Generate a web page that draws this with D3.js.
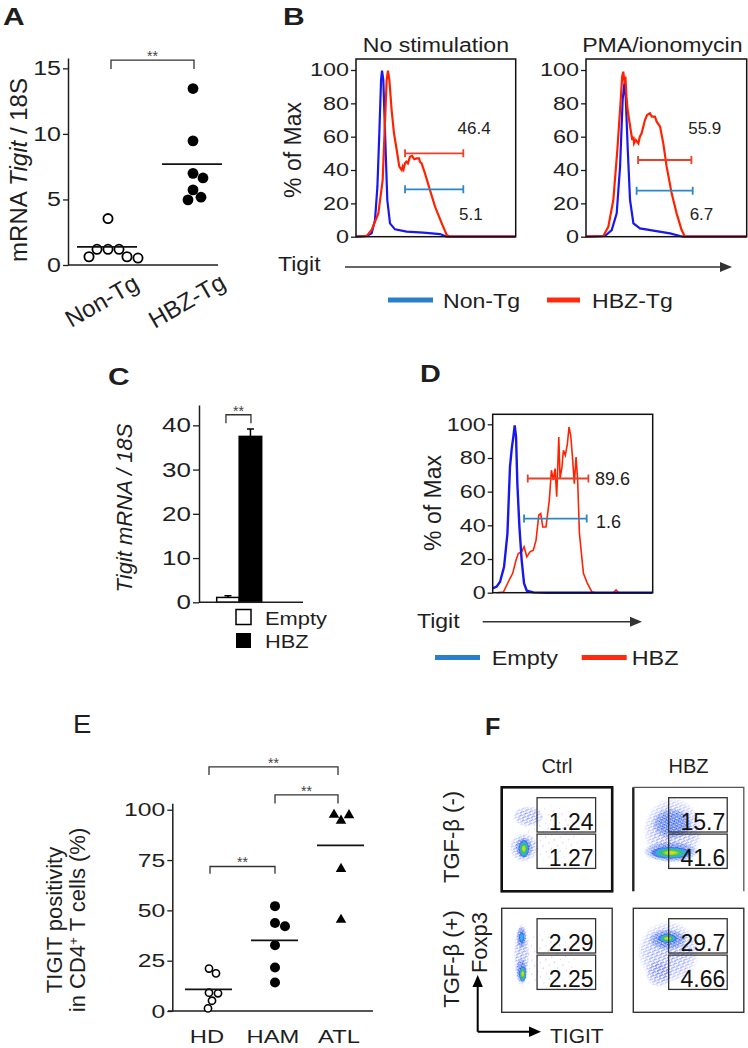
<!DOCTYPE html>
<html>
<head>
<meta charset="utf-8">
<script src="https://cdn.jsdelivr.net/npm/d3@7/dist/d3.min.js"></script>
<style>
 html,body{margin:0;padding:0;background:#fff}
 svg{display:block}
 text{font-family:"Liberation Sans",Arial,Helvetica,sans-serif}
</style>
</head>
<body>
<svg id="fig" width="748" height="1048"></svg>
<script>
// ================= DATA =================
// Panel A : mRNA Tigit / 18S
const aGroups = ["Non-Tg", "HBZ-Tg"];
const aNonTg = [3.54, 1.2, 1.2, 1.2, 0.63, 0.63, 0.53];
const aHbzTg = [13.46, 9.47, 6.99, 6.64, 5.73, 5.17, 4.97];
const aMeans = [1.39, 7.7];
const aTicks = [0, 5, 10, 15];

// Panel B : histograms [Tigit (0-100 log scale), % of Max]
const bTitles = ["No stimulation", "PMA/ionomycin"];
const bTicks = [0, 20, 40, 60, 80, 100];
const bNoStimNonTg = [[0,0],[6.7,0.4],[9.8,2],[11.9,10],[13.4,30],[14.6,62],[15.7,94],[16.3,99.6],[17.1,94],[18.2,62],[19.6,22],[21.3,8],[24.4,4.4],[31.7,3],[42.2,2.4],[52.6,1.6],[56.8,0],[100,0]];
const bNoStimHbzTg = [[0,0],[6.7,0.4],[9.8,4],[14,14],[16.7,34],[18.2,70],[19.2,94],[20,99.6],[20.9,94],[22.3,76],[23.8,62],[25.5,52],[27.1,42],[28.6,40],[29.2,42],[29.8,40.5],[30.7,44],[31.5,45],[32.5,44],[33.8,48],[35,48.5],[36.5,46.5],[38,47],[39.5,47],[40,45],[41.1,44],[43.2,38],[46.3,28],[49.5,18],[53.7,8],[56.8,1],[58.9,0],[100,0]];
const bPmaNonTg = [[0,0],[11.8,0.4],[16,4],[19.1,14],[21.2,42],[22.8,82],[23.9,92],[24.7,84],[26,52],[27.4,22],[29.5,8],[33.6,5],[41.9,3.6],[52.3,2],[58.5,0.4],[60.6,0],[100,0]];
const bPmaHbzTg = [[0,0],[10.8,0.4],[13.9,6],[17,22],[19.5,52],[21.6,82],[22.5,96],[23.2,99],[24,92],[24.5,96],[25.2,84],[25.9,76],[27.8,64],[28.8,58],[29.5,60],[29.9,56],[31,58],[32.6,56],[33.5,60],[34.6,62],[36.7,70],[38,73],[39.8,74],[41,72],[42.9,72],[44,69],[46.1,66],[48.1,56],[50.2,42],[53.3,26],[56.4,14],[59.5,4],[61.6,0],[100,0]];
const bGateNonTg = [[30.7, 67.2, 28.4], [31.5, 66.4, 27.6]];   // [from, to, level]
const bGateHbzTg = [[30.7, 67.2, 50], [32.4, 65.6, 46]];
const bPctNonTg = ["5.1", "6.7"];
const bPctHbzTg = ["46.4", "55.9"];

// Panel C : bar chart
const cGroups = ["Empty", "HBZ"];
const cValues = [1.1, 37.5];
const cErrors = [0.4, 1.7];
const cTicks = [0, 10, 20, 30, 40];

// Panel D : histograms
const dTicks = [0, 20, 40, 60, 80, 100];
const dEmpty = [[0,2.6],[2.5,3.6],[4.6,6.5],[7.1,15.4],[9.2,35],[10.8,74.7],[11.9,85.6],[12.9,92.5],[13.75,99.4],[14.6,92.5],[15.4,64.8],[16.7,39],[18.1,19.4],[19.6,5.5],[21.3,1.2],[25.4,0.2],[33.8,0],[100,0]];
const dHbz = [[2.5,0],[6.7,0.4],[9.8,6.5],[12.5,11.5],[14.6,19.4],[16,23.3],[18.1,24.3],[19.6,27.3],[21.3,21.3],[23.3,24.3],[25.4,25.3],[27.1,31.2],[28.8,46],[30,47],[31.3,39],[33.3,39],[35.4,55],[36.7,72.7],[37.9,66.8],[39,73.7],[40,57],[41.3,92.5],[42.1,67.8],[43.3,74.7],[44.2,84.6],[45.4,81.6],[46.7,88.5],[47.7,98.4],[48.75,93.5],[50,78.7],[51,64.8],[52.1,80.6],[53.1,66.8],[54.2,35.2],[56.7,11.5],[59.2,5.5],[61.9,0.6],[64,0],[75.4,0],[77.1,1.6],[78.75,0],[100,0]];
const dGateEmpty = [19.6, 58.75, 44];
const dGateHbz = [21.9, 59.8, 67.8];
const dPctEmpty = "1.6";
const dPctHbz = "89.6";

// Panel E : TIGIT positivity
const eGroups = ["HD", "HAM", "ATL"];
const eHD = [21.1, 18.7, 9.1, 8.8, 5.1, 1.3];
const eHAM = [52.1, 43.7, 42.1, 32.7, 21.6, 14.2];
const eATL = [94.6, 97.3, 97.5, 70.6, 45.3];
const eMeans = [10.7, 35.1, 82.3];
const eTicks = [0, 25, 50, 75, 100];

// Panel F : flow plots (TIGIT x Foxp3, 0-100 scale)
const fCols = ["Ctrl", "HBZ"];
const fRows = ["TGF-β (-)", "TGF-β (+)"];
const fPctUpper = [["1.24", "15.7"], ["2.29", "29.7"]];
const fPctLower = [["1.27", "41.6"], ["2.25", "4.66"]];
const fGateTigit = [32, 85];
const fGateFoxp3Upper = [57, 90];
const fGateFoxp3Lower = [22, 55];
// clouds: [TIGIT centre, Foxp3 centre, spread TIGIT, spread Foxp3, density]
const fCtrlNeg = [[24,72,14,10,"sparse"],[45,55,30,30,"faint"],[20,42,13,14,"sparse"],[20,42,8,10,"mid"],[20,41,5,9,"dense"]];
const fHbzNeg  = [[36,58,27,32,"sparse"],[35,65,18,15,"mid"],[34,38,25,10,"mid"],[34,37,19,6,"dense"]];
const fCtrlPos = [[18,55,7,31,"sparse"],[40,50,30,30,"faint"],[18,72,4.5,11,"mid"],[18,40,5,12,"mid"],[18,72,2.5,6,"cool"],[19,37,3.5,8,"dense"]];
const fHbzPos  = [[32,58,28,30,"sparse"],[23,37,12,13,"sparse"],[31,70,17,10,"mid"],[31,71,9,4.5,"dense"]];

// ================= DRAWING =================
const svg = d3.select("#fig");
const INK = "#1e1e1e";
const BLUE_LINE = "#1818ee", RED_LINE = "#ff2200";
const BLUE_GATE = "#2b87c8", RED_GATE = "#e8402a";
const BLUE_LEG = "#2a80c8", RED_LEG = "#ff2a10";

function label(g, parts, x, y, o = {}) {
  const t = g.append("text")
    .attr("transform", `translate(${x},${y}) scale(${o.sx ?? 1},1)${o.rot ? ` rotate(${o.rot})` : ""}`)
    .attr("font-size", o.size ?? 18)
    .attr("text-anchor", o.anchor ?? "start")
    .attr("fill", o.fill ?? INK);
  if (o.weight) t.attr("font-weight", o.weight);
  if (o.italic) t.attr("font-style", "italic");
  if (o.family) t.attr("font-family", o.family);
  if (o.dy) t.attr("dy", o.dy);
  const arr = Array.isArray(parts) ? parts : [[parts]];
  arr.forEach(p => {
    const s = t.append("tspan").text(p[0]);
    if (p[1] === "i") s.attr("font-style", "italic");
    if (p[1] === "sup") s.attr("font-size", "0.62em").attr("baseline-shift", "super");
  });
  return t;
}

function yAxis(g, scale, ticks, x, o) {
  const ax = g.append("g").attr("transform", `translate(${x},0)`)
    .call(d3.axisLeft(scale).tickValues(ticks).tickSize(o.tick ?? 5).tickSizeOuter(0).tickPadding(o.pad ?? 2));
  ax.attr("font-family", null).attr("font-size", null);
  ax.select(".domain").attr("stroke", INK).attr("stroke-width", 1.5).attr("display", o.noDomain ? "none" : null);
  ax.selectAll(".tick line").attr("stroke", INK).attr("stroke-width", 1.3);
  ax.selectAll(".tick text").each(function () {
    const t = d3.select(this);
    const tx = +t.attr("x");
    t.attr("x", 0).attr("transform", `translate(${tx},0) scale(${o.sx},1)`)
      .attr("font-size", o.size).attr("fill", INK);
  });
  return ax;
}

function dodge(values, cx, y, r, step) {
  const placed = [];
  return values.map(v => {
    const py = y(v);
    for (let k = 0; k < 80; k++) {
      const off = k === 0 ? 0 : Math.ceil(k / 2) * step * (k % 2 ? 1 : -1);
      const px = cx + off;
      if (placed.every(p => Math.hypot(p[0] - px, p[1] - py) >= 2 * r)) {
        placed.push([px, py]);
        return { v, x: px, y: py };
      }
    }
    return { v, x: cx, y: py };
  });
}

function bracket(g, x1, x2, yTop, yLeg) {
  g.append("path")
    .attr("d", `M${x1},${yLeg}V${yTop}H${x2}V${yLeg}`)
    .attr("fill", "none").attr("stroke", "#333").attr("stroke-width", 1.3);
  label(g, "**", (x1 + x2) / 2, yTop + 1, { size: 14, anchor: "middle", fill: "#444" });
}

function arrowRight(g, x1, x2, y, color, w) {
  g.append("line").attr("x1", x1).attr("x2", x2 - 8).attr("y1", y).attr("y2", y)
    .attr("stroke", color).attr("stroke-width", w);
  g.append("path").attr("d", `M${x2},${y}L${x2 - 12},${y - 5}L${x2 - 12},${y + 5}Z`).attr("fill", color);
}

const defs = svg.append("defs");

// ---------- Panel A ----------
{
  const g = svg.append("g");
  label(g, "A", 3, 25, { size: 24, weight: "bold", sx: 1.25 });
  const y = d3.scaleLinear().domain([0, 15.79]).range([265, 58]);
  const x = d3.scalePoint().domain(aGroups).range([108, 193]);
  yAxis(g, y, aTicks, 68, { size: 20, sx: 1.25 });
  g.append("line").attr("x1", 68).attr("x2", 218).attr("y1", y(0)).attr("y2", y(0))
    .attr("stroke", INK).attr("stroke-width", 1.5);
  label(g, [["mRNA "], ["Tigit", "i"], [" / 18S"]], 19, 170, { size: 24, rot: -90, anchor: "middle", dy: "0.35em" });
  aGroups.forEach(grp => label(g, grp, x(grp) - 2, 308, { size: 24, rot: -30, anchor: "middle" }));

  const series = [aNonTg, aHbzTg];
  series.forEach((vals, i) => {
    const pts = dodge(vals, x(aGroups[i]), y, 5.4, 1);
    g.selectAll(null).data(pts).join("circle")
      .attr("cx", d => d.x).attr("cy", d => d.y).attr("r", i === 0 ? 4.6 : 5.4)
      .attr("fill", i === 0 ? "#fff" : "#000").attr("stroke", "#000").attr("stroke-width", i === 0 ? 1.8 : 0);
  });
  g.selectAll(null).data(aMeans).join("line")
    .attr("x1", (d, i) => x(aGroups[i]) - 31).attr("x2", (d, i) => x(aGroups[i]) + 29)
    .attr("y1", d => y(d)).attr("y2", d => y(d)).attr("stroke", "#111").attr("stroke-width", 1.8);
  bracket(g, x(aGroups[0]) + 3, x(aGroups[1]) + 1, y(15.63), y(14.95));
}

// ---------- Panel B ----------
{
  const g = svg.append("g");
  label(g, "B", 283, 25, { size: 24, weight: "bold", sx: 1.25 });
  const boxes = [[356, 515.7], [586, 746.7]];
  const top = 59, bottom = 236.7;
  const y = d3.scaleLinear().domain([0, 100]).range([bottom, 70]);
  const blue = [bNoStimNonTg, bPmaNonTg], red = [bNoStimHbzTg, bPmaHbzTg];
  boxes.forEach(([x0, x1], i) => {
    const x = d3.scaleLinear().domain([0, 100]).range([x0, x1]);
    const id = "clipB" + i;
    defs.append("clipPath").attr("id", id).append("rect")
      .attr("x", x0).attr("y", top).attr("width", x1 - x0).attr("height", bottom - top + 1.5);
    label(g, bTitles[i], (x0 + x1) / 2 - (i ? 4 : 0), 52, { size: 21, anchor: "middle", sx: 1.1 });
    yAxis(g, y, bTicks, x0, { size: 18, sx: 1.3, noDomain: true });
    const line = d3.line().x(d => x(d[0])).y(d => y(d[1]));
    const pg = g.append("g").attr("clip-path", `url(#${id})`);
    pg.append("path").attr("d", line(blue[i])).attr("fill", "none").attr("stroke", BLUE_LINE).attr("stroke-width", 2.2);
    pg.append("path").attr("d", line(red[i])).attr("fill", "none").attr("stroke", RED_LINE).attr("stroke-width", 2.2);
    g.append("rect").attr("x", x0).attr("y", top).attr("width", x1 - x0).attr("height", bottom - top)
      .attr("fill", "none").attr("stroke", "#111").attr("stroke-width", 1.5);
    [[bGateHbzTg[i], RED_GATE], [bGateNonTg[i], BLUE_GATE]].forEach(([gt, col]) => {
      const gy = y(gt[2]);
      g.append("path").attr("d", `M${x(gt[0])},${gy}H${x(gt[1])}M${x(gt[0])},${gy - 4}V${gy + 4}M${x(gt[1])},${gy - 4}V${gy + 4}`)
        .attr("stroke", col).attr("stroke-width", 1.8).attr("fill", "none");
    });
    label(g, bPctHbzTg[i], x(63.6), y(61.5), { size: 17, family: "DejaVu Sans", fill: "#222" });
    label(g, bPctNonTg[i], x(64.5), y(10), { size: 17, family: "DejaVu Sans", fill: "#222" });
  });
  label(g, "% of Max", 293, 150, { size: 23, rot: -90, anchor: "middle", dy: "0.35em" });
  label(g, "Tigit", 278, 271, { size: 20, sx: 1.15 });
  arrowRight(g, 345, 732, 267, "#333", 1.5);
  g.append("line").attr("x1", 388).attr("x2", 433).attr("y1", 300).attr("y2", 300).attr("stroke", BLUE_LEG).attr("stroke-width", 5);
  label(g, "Non-Tg", 443, 308, { size: 21, sx: 1.1 });
  g.append("line").attr("x1", 547).attr("x2", 580).attr("y1", 300).attr("y2", 300).attr("stroke", RED_LEG).attr("stroke-width", 5);
  label(g, "HBZ-Tg", 592, 308, { size: 21, sx: 1.1 });
}

// ---------- Panel C ----------
{
  const g = svg.append("g");
  label(g, "C", 108, 385, { size: 24, weight: "bold", sx: 1.25 });
  const y = d3.scaleLinear().domain([0, 44.6]).range([602.3, 405]);
  const x = d3.scaleBand().domain(cGroups).range([216.7, 261.7]).paddingInner(0);
  yAxis(g, y, cTicks, 199, { size: 20, sx: 1.3, tick: 6 });
  label(g, "Tigit mRNA / 18S", 124, 508, { size: 22, rot: -90, anchor: "middle", dy: "0.35em", italic: true });
  g.selectAll(null).data(cValues).join("rect")
    .attr("x", (d, i) => x(cGroups[i])).attr("width", x.bandwidth())
    .attr("y", d => y(d)).attr("height", d => y(0) - y(d))
    .attr("fill", (d, i) => i ? "#000" : "#fff").attr("stroke", "#000").attr("stroke-width", 1.5);
  g.selectAll(null).data(cValues).join("path")
    .attr("d", (d, i) => {
      const cx = x(cGroups[i]) + x.bandwidth() / 2, yt = y(d + cErrors[i]);
      return `M${cx},${y(d)}V${yt}M${cx - 3.5},${yt}H${cx + 3.5}`;
    })
    .attr("stroke", "#000").attr("stroke-width", 1.5);
  g.append("line").attr("x1", 199).attr("x2", 303).attr("y1", y(0)).attr("y2", y(0)).attr("stroke", INK).attr("stroke-width", 1.5);
  bracket(g, x(cGroups[0]) + x.bandwidth() / 2 - 2, x(cGroups[1]) + x.bandwidth() / 2 + 0.5, y(42.4), y(40.5));
  g.append("rect").attr("x", 236).attr("y", 609.5).attr("width", 15).attr("height", 15).attr("fill", "#fff").attr("stroke", "#000").attr("stroke-width", 1.5);
  label(g, cGroups[0], 265, 624.5, { size: 19, sx: 1.15 });
  g.append("rect").attr("x", 236).attr("y", 633).attr("width", 15).attr("height", 15).attr("fill", "#000");
  label(g, cGroups[1], 265, 648, { size: 19, sx: 1.15 });
}

// ---------- Panel D ----------
{
  const g = svg.append("g");
  label(g, "D", 420, 382, { size: 24, weight: "bold", sx: 1.2 });
  const x0 = 492.7, x1 = 652.7, top = 414.3, bottom = 592.7;
  const x = d3.scaleLinear().domain([0, 100]).range([x0, x1]);
  const y = d3.scaleLinear().domain([0, 100]).range([bottom, 424.3]);
  defs.append("clipPath").attr("id", "clipD").append("rect")
    .attr("x", x0).attr("y", top).attr("width", x1 - x0).attr("height", bottom - top + 1.5);
  yAxis(g, y, dTicks, x0, { size: 18, sx: 1.3, noDomain: true });
  const line = d3.line().x(d => x(d[0])).y(d => y(d[1]));
  const pg = g.append("g").attr("clip-path", "url(#clipD)");
  pg.append("path").attr("d", line(dHbz)).attr("fill", "none").attr("stroke", RED_LINE).attr("stroke-width", 1.6);
  pg.append("path").attr("d", line(dEmpty)).attr("fill", "none").attr("stroke", BLUE_LINE).attr("stroke-width", 2.4);
  g.append("rect").attr("x", x0).attr("y", top).attr("width", x1 - x0).attr("height", bottom - top)
    .attr("fill", "none").attr("stroke", "#111").attr("stroke-width", 1.5);
  [[dGateHbz, RED_GATE], [dGateEmpty, BLUE_GATE]].forEach(([gt, col]) => {
    const gy = y(gt[2]);
    g.append("path").attr("d", `M${x(gt[0])},${gy}H${x(gt[1])}M${x(gt[0])},${gy - 4}V${gy + 4}M${x(gt[1])},${gy - 4}V${gy + 4}`)
      .attr("stroke", col).attr("stroke-width", 1.8).attr("fill", "none");
  });
  label(g, dPctHbz, x(64), y(64), { size: 18, family: "DejaVu Sans", fill: "#222" });
  label(g, dPctEmpty, x(64.6), y(38.6), { size: 18, family: "DejaVu Sans", fill: "#222" });
  label(g, "% of Max", 433.3, 503, { size: 23, rot: -90, anchor: "middle", dy: "0.35em" });
  label(g, "Tigit", 417, 627.5, { size: 20, sx: 1.15 });
  arrowRight(g, 482.7, 642, 621.7, "#333", 1.5);
  g.append("line").attr("x1", 435).attr("x2", 480).attr("y1", 657.5).attr("y2", 657.5).attr("stroke", BLUE_LEG).attr("stroke-width", 5);
  label(g, "Empty", 491.7, 664.5, { size: 20, sx: 1.17 });
  g.append("line").attr("x1", 581.7).attr("x2", 626.7).attr("y1", 657.5).attr("y2", 657.5).attr("stroke", RED_LEG).attr("stroke-width", 5);
  label(g, "HBZ", 631.7, 664.5, { size: 20, sx: 1.17 });
}

// ---------- Panel E ----------
{
  const g = svg.append("g");
  label(g, "E", 73, 733, { size: 25, sx: 1.1 });
  const y = d3.scaleLinear().domain([0, 103.2]).range([1011, 803.3]);
  const x = d3.scalePoint().domain(eGroups).range([209, 341]);
  yAxis(g, y, eTicks, 172.3, { size: 19, sx: 1.3 });
  g.append("line").attr("x1", 168).attr("x2", 373).attr("y1", y(0)).attr("y2", y(0)).attr("stroke", INK).attr("stroke-width", 1.5);
  eGroups.forEach(grp => label(g, grp, x(grp) - 2, 1043, { size: 19, sx: 1.25, anchor: "middle" }));
  label(g, "TIGIT positivity", 54, 920, { size: 22, rot: -90, anchor: "middle", dy: "0.35em" });
  label(g, [["in CD4"], ["+", "sup"], [" T cells (%)"]], 77, 920, { size: 22, rot: -90, anchor: "middle", dy: "0.35em" });

  const hd = dodge(eHD, x("HD"), y, 4.2, 1);
  g.selectAll(null).data(hd).join("circle").attr("cx", d => d.x).attr("cy", d => d.y).attr("r", 3.6)
    .attr("fill", "#fff").attr("stroke", "#000").attr("stroke-width", 1.6);
  const ham = dodge(eHAM, x("HAM"), y, 5, 1);
  g.selectAll(null).data(ham).join("circle").attr("cx", d => d.x).attr("cy", d => d.y).attr("r", 5).attr("fill", "#000");
  const atl = dodge(eATL, x("ATL"), y, 4.5, 1);
  g.selectAll(null).data(atl).join("path").attr("d", d3.symbol(d3.symbolTriangle).size(48)())
    .attr("transform", d => `translate(${d.x},${d.y})`).attr("fill", "#000");
  g.selectAll(null).data(eMeans).join("line")
    .attr("x1", (d, i) => x(eGroups[i]) - 24).attr("x2", (d, i) => x(eGroups[i]) + 23)
    .attr("y1", d => y(d)).attr("y2", d => y(d)).attr("stroke", "#111").attr("stroke-width", 1.8);
  bracket(g, x("HD"), x("ATL") - 3, y(121.3), y(117.3));
  bracket(g, x("HAM"), x("ATL") - 3, y(107.4), y(103.1));
  bracket(g, x("HD") + 1, x("HAM"), y(71.8), y(68.2));
}

// ---------- Panel F ----------
{
  const mkPattern = (id, size, rot, dots) => {
    const p = defs.append("pattern").attr("id", id).attr("patternUnits", "userSpaceOnUse")
      .attr("width", size).attr("height", size).attr("patternTransform", `rotate(${rot})`);
    dots.forEach(c => p.append("circle").attr("cx", c[0]).attr("cy", c[1]).attr("r", c[2]).attr("fill", c[3]));
  };
  mkPattern("dotsFaint", 9, 17, [[1.5, 2, 0.6, "#8a8cff"], [6.5, 6.8, 0.55, "#a0a4ff"]]);
  mkPattern("dotsSparse", 4, 23, [[0.9, 0.9, 0.7, "#2b3cff"], [2.9, 2.5, 0.65, "#6a55ff"], [1.7, 3.4, 0.55, "#1f70ff"]]);
  mkPattern("dotsMid", 2.6, 31, [[0.7, 0.7, 0.7, "#1222d0"], [1.9, 1.8, 0.65, "#2a5cff"], [2.1, 0.5, 0.45, "#20b0e0"]]);
  const fg = defs.append("radialGradient").attr("id", "fadeG");
  [[0, "#fff"], [0.6, "#e0e0e0"], [0.85, "#808080"], [1, "#000"]].forEach(s => fg.append("stop").attr("offset", s[0]).attr("stop-color", s[1]));
  defs.append("mask").attr("id", "fade").attr("maskContentUnits", "objectBoundingBox")
    .attr("x", 0).attr("y", 0).attr("width", 1).attr("height", 1)
    .append("rect").attr("width", 1).attr("height", 1).attr("fill", "url(#fadeG)");
  const heat = defs.append("radialGradient").attr("id", "heat");
  [[0, "#ffd400", 1], [0.22, "#b8dc20", 1], [0.45, "#30c060", 0.95], [0.68, "#20b4d8", 0.85], [0.85, "#2448ff", 0.6], [1, "#2448ff", 0]]
    .forEach(s => heat.append("stop").attr("offset", s[0]).attr("stop-color", s[1]).attr("stop-opacity", s[2]));
  const cool = defs.append("radialGradient").attr("id", "cool");
  [[0, "#30d0c0", 1], [0.45, "#20b0e0", 0.9], [0.8, "#2448ff", 0.6], [1, "#2448ff", 0]]
    .forEach(s => cool.append("stop").attr("offset", s[0]).attr("stop-color", s[1]).attr("stop-opacity", s[2]));
  const fills = { faint: "url(#dotsFaint)", sparse: "url(#dotsSparse)", mid: "url(#dotsMid)", dense: "url(#heat)", cool: "url(#cool)" };

  const g = svg.append("g");
  label(g, "F", 485, 735, { size: 24, weight: "bold", sx: 1.05 });
  const colX = [501.7, 633.3], rowY = [787.3, 908.3], W = 110.5, H = 104;
  const clouds = [[fCtrlNeg, fHbzNeg], [fCtrlPos, fHbzPos]];
  fCols.forEach((c, ci) => label(g, c, colX[ci] + W / 2, 773.3, { size: 20, anchor: "middle" }));
  fRows.forEach((rlab, ri) => fCols.forEach((clab, ci) => {
    const x = d3.scaleLinear().domain([0, 100]).range([colX[ci], colX[ci] + W]);
    const y = d3.scaleLinear().domain([0, 100]).range([rowY[ri] + H, rowY[ri]]);
    const id = `clipF${ri}${ci}`;
    defs.append("clipPath").attr("id", id).append("rect").attr("x", colX[ci]).attr("y", rowY[ri]).attr("width", W).attr("height", H);
    const cg = g.append("g").attr("clip-path", `url(#${id})`);
    cg.selectAll(null).data(clouds[ri][ci]).join("ellipse")
      .attr("cx", d => x(d[0])).attr("cy", d => y(d[1]))
      .attr("rx", d => x(d[2]) - x(0)).attr("ry", d => y(0) - y(d[3]))
      .attr("fill", d => fills[d[4]])
      .attr("mask", d => (d[4] === "sparse" || d[4] === "mid" || d[4] === "faint") ? "url(#fade)" : null);
    [fGateFoxp3Upper, fGateFoxp3Lower].forEach((gy, k) => {
      g.append("rect").attr("x", x(fGateTigit[0])).attr("y", y(gy[1]))
        .attr("width", x(fGateTigit[1]) - x(fGateTigit[0])).attr("height", y(gy[0]) - y(gy[1]))
        .attr("fill", "none").attr("stroke", "#333").attr("stroke-width", 1.3);
      const txt = (k === 0 ? fPctUpper : fPctLower)[ri][ci];
      label(g, txt, x(fGateTigit[1]) - 2, y(gy[0]) - 2.5, { size: 23, anchor: "end", fill: "#111" });
    });
    const l = colX[ci], t = rowY[ri], r = colX[ci] + W, b = rowY[ri] + H;
    if (ri === 0 && ci === 0) {
      g.append("rect").attr("x", l).attr("y", t).attr("width", W).attr("height", H).attr("fill", "none").attr("stroke", "#111").attr("stroke-width", 2.6);
    } else if (ri === 0 && ci === 1) {
      g.append("path").attr("d", `M${l},${b}V${t}`).attr("stroke", "#222").attr("stroke-width", 2.4).attr("fill", "none");
      g.append("path").attr("d", `M${l},${t}H${r}V${b}`).attr("stroke", "#555").attr("stroke-width", 1.3).attr("fill", "none");
    } else {
      g.append("rect").attr("x", l).attr("y", t).attr("width", W).attr("height", H).attr("fill", "none").attr("stroke", "#333").attr("stroke-width", 1.4);
    }
  }));
  label(g, fRows[0], 451.7, 837, { size: 22, rot: -90, anchor: "middle", dy: "0.35em" });
  label(g, fRows[1], 451.7, 959, { size: 22, rot: -90, anchor: "middle", dy: "0.35em" });
  label(g, "Foxp3", 479, 942.5, { size: 22, rot: -90, anchor: "middle", dy: "0.35em" });
  g.append("path").attr("d", "M477.7,1031.7V985M477.7,1031.7H530").attr("stroke", "#000").attr("stroke-width", 2).attr("fill", "none");
  g.append("path").attr("d", "M477.7,975L472.5,987L482.9,987Z").attr("fill", "#000");
  g.append("path").attr("d", "M541,1031.7L529,1026.5L529,1036.9Z").attr("fill", "#000");
  label(g, "TIGIT", 550, 1043, { size: 21 });
}
</script>
</body>
</html>
